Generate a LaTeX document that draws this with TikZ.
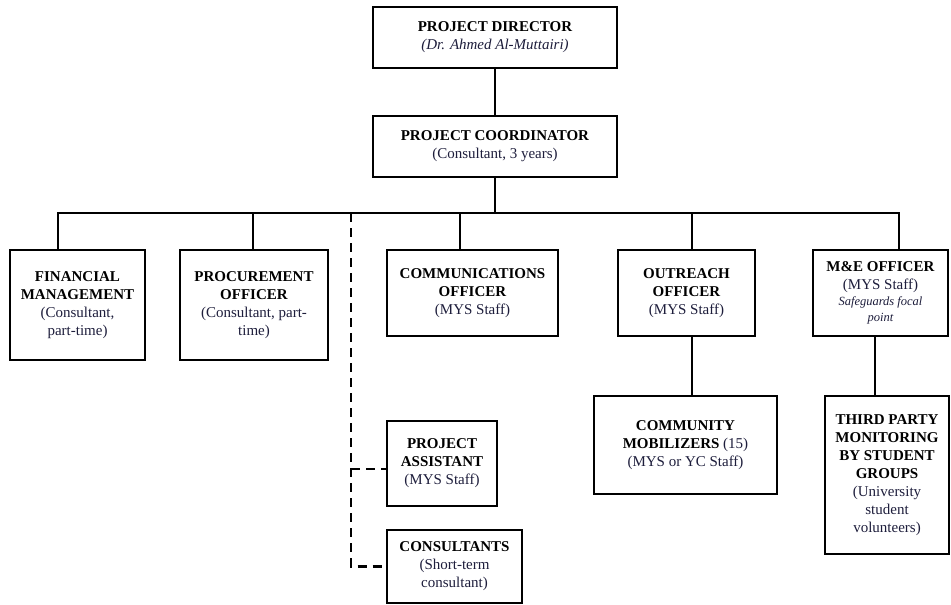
\documentclass[tikz,border=0pt]{standalone}
\usepackage{fontspec}
\setmainfont{Liberation Serif}
\usetikzlibrary{calc}
\definecolor{sub}{RGB}{30,30,60}
\tikzset{
  box/.style={draw=black, line width=2.5pt, fill=white, align=center, inner sep=0pt,
    font=\fontsize{15}{18}\selectfont},
  conn/.style={line width=2.5pt},
  dconn/.style={line width=2.3pt, dash pattern=on 9pt off 6pt},
}
\newcommand{\hd}[1]{\textbf{#1}}
\newcommand{\sbt}[1]{\textcolor{sub}{#1}}
\begin{document}
\begin{tikzpicture}[x=1pt,y=-1pt]
\useasboundingbox (0,0) rectangle (951,605);
\fill[white] (0,0) rectangle (951,605);
% boxes
\node[box, minimum width=244pt, minimum height=61pt] (dir) at (495,37.5)
  {\hd{PROJECT DIRECTOR}\\\sbt{\textit{(Dr. Ahmed Al-Muttairi)}}};
\node[box, minimum width=244pt, minimum height=61pt] (crd) at (495,146.5)
  {\hd{PROJECT COORDINATOR}\\\sbt{(Consultant, 3 years)}};
\node[box, minimum width=135pt, minimum height=110pt] (fin) at (77.5,305)
  {\hd{FINANCIAL}\\\hd{MANAGEMENT}\\\sbt{(Consultant,}\\\sbt{part-time)}};
\node[box, minimum width=148pt, minimum height=110pt] (proc) at (254,305)
  {\hd{PROCUREMENT}\\\hd{OFFICER}\\\sbt{(Consultant, part-}\\\sbt{time)}};
\node[box, minimum width=171pt, minimum height=86pt] (comm) at (472.5,293)
  {\hd{COMMUNICATIONS}\\\hd{OFFICER}\\\sbt{(MYS Staff)}};
\node[box, minimum width=137pt, minimum height=86pt] (out) at (686.5,293)
  {\hd{OUTREACH}\\\hd{OFFICER}\\\sbt{(MYS Staff)}};
\node[box, minimum width=135pt, minimum height=86pt] (me) at (880.5,293)
  {\hd{M\&E OFFICER}\\\sbt{(MYS Staff)}\\[-2pt]{\fontsize{12.5}{15}\selectfont\sbt{\textit{Safeguards focal}}}\\[-2pt]{\fontsize{12.5}{15}\selectfont\sbt{\textit{point}}}};
\node[box, minimum width=110pt, minimum height=85pt] (pa) at (442,463.5)
  {\hd{PROJECT}\\\hd{ASSISTANT}\\\sbt{(MYS Staff)}};
\node[box, minimum width=135pt, minimum height=73pt] (cons) at (454.5,566.5)
  {\hd{CONSULTANTS}\\\sbt{(Short-term}\\\sbt{consultant)}};
\node[box, minimum width=183pt, minimum height=98pt] (mob) at (685.5,445)
  {\hd{COMMUNITY}\\\hd{MOBILIZERS} \sbt{(15)}\\\sbt{(MYS or YC Staff)}};
\node[box, minimum width=124pt, minimum height=158pt] (tpm) at (887,475)
  {\hd{THIRD PARTY}\\\hd{MONITORING}\\\hd{BY STUDENT}\\\hd{GROUPS}\\\sbt{(University}\\\sbt{student}\\\sbt{volunteers)}};
% connectors
\coordinate (bl) at (58,213);
\coordinate (br) at (899,213);
\coordinate (bp) at (253,213);
\coordinate (bc) at (460,213);
\coordinate (bo) at (692,213);
\coordinate (bd) at (351,213);
\draw[conn] (dir.south) -- (crd.north);
\draw[conn] (crd.south) -- (crd.south |- bl);
\draw[conn] (bl |- fin.north) -- (bl) -- (br) -- (br |- me.north);
\draw[conn] (bp) -- (bp |- proc.north);
\draw[conn] (bc) -- (bc |- comm.north);
\draw[conn] (bo) -- (bo |- out.north);
\draw[conn] (bo |- out.south) -- (bo |- mob.north);
\coordinate (mb) at (875,336);
\draw[conn] (mb |- me.south) -- (mb |- tpm.north);
\draw[dconn] (bd) -- (bd |- cons.west) -- (cons.west);
\coordinate (pj) at (351,469);
\draw[dconn] (pj) -- (pj -| pa.west);
\end{tikzpicture}
\end{document}
